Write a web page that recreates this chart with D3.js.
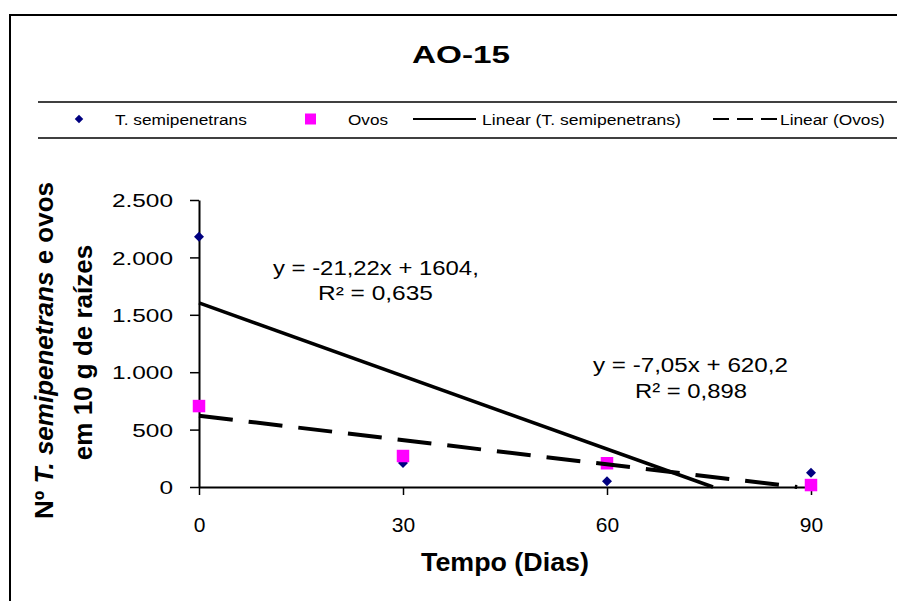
<!DOCTYPE html>
<html>
<head>
<meta charset="utf-8">
<script src="https://cdn.jsdelivr.net/npm/d3@7"></script>
<style>
  body { margin: 0; background: #fff; }
  text { font-family: "Liberation Sans", Arial, sans-serif; fill: #000; }
</style>
</head>
<body>
<div id="chart"></div>
<script>
// data
const days = [0, 30, 60, 90];
const semipenetrans = [2180, 210, 50, 125];
const ovos = [705, 270, 207, 17];
const xTicks = [0, 30, 60, 90];
const yTicks = [0, 500, 1000, 1500, 2000, 2500];
// trend lines: [slope, intercept], as printed on the chart
const trendSemi = [-21.22, 1604];
const trendOvos = [-7.05, 620.2];
const eqSemi = ["y = -21,22x + 1604,", "R² = 0,635"];
const eqOvos = ["y = -7,05x + 620,2", "R² = 0,898"];
const legendLabels = ["T. semipenetrans", "Ovos", "Linear (T. semipenetrans)", "Linear (Ovos)"];

const W = 897, H = 601;
const svg = d3.select("#chart").append("svg")
    .attr("width", W)
    .attr("height", H);

// stretch a text horizontally to a given width (old Excel fonts look wide)
function fit(sel, x, y, w) {
    const bw = sel.node().getComputedTextLength();
    sel.attr("x", 0).attr("y", 0)
        .attr("transform", `translate(${x},${y}) scale(${w / bw},1)`);
}

// outer frame (runs off the right and bottom edges)
svg.append("rect")
    .attr("x", 10).attr("y", 15)
    .attr("width", W).attr("height", H)
    .attr("fill", "none").attr("stroke", "#000").attr("stroke-width", 2);

// title
fit(svg.append("text").attr("font-size", 24).attr("font-weight", "bold").text("AO-15"), 412, 62.5, 98);

// legend box lines
[102, 138].forEach(y => {
    svg.append("line")
        .attr("x1", 38).attr("x2", W)
        .attr("y1", y).attr("y2", y)
        .attr("stroke", "#000").attr("stroke-width", 1.5);
});

const legY = 119;
svg.append("path")
    .attr("d", d3.symbol(d3.symbolSquare, 36)())
    .attr("transform", `translate(79,${legY}) rotate(45)`)
    .attr("fill", "#000080");
svg.append("path")
    .attr("d", d3.symbol(d3.symbolSquare, 121)())
    .attr("transform", `translate(310.5,${legY})`)
    .attr("fill", "#ff00ff");
svg.append("line")
    .attr("x1", 413).attr("x2", 476).attr("y1", legY).attr("y2", legY)
    .attr("stroke", "#000").attr("stroke-width", 2);
svg.append("line")
    .attr("x1", 713).attr("x2", 777).attr("y1", legY).attr("y2", legY)
    .attr("stroke", "#000").attr("stroke-width", 2)
    .attr("stroke-dasharray", "16,8");

const legPos = [[115, 132], [348, 40], [482, 199], [780, 105]];
legendLabels.forEach((t, i) => {
    fit(svg.append("text").attr("font-size", 15).text(t), legPos[i][0], 124.5, legPos[i][1]);
});

// plot area
const margin = { left: 199, top: 200, right: W - 811, bottom: H - 487 };
const width = W - margin.left - margin.right;
const height = H - margin.top - margin.bottom;
const g = svg.append("g").attr("transform", `translate(${margin.left},${margin.top})`);

const x = d3.scaleLinear().domain([0, 90]).range([0, width]);
const y = d3.scaleLinear().domain([0, 2500]).range([height, 0]);

const pt = d3.formatLocale({ decimal: ",", thousands: ".", grouping: [3], currency: ["", ""] });

// y axis
const yAxis = g.append("g")
    .call(d3.axisLeft(y).tickValues(yTicks).tickSizeInner(9).tickSizeOuter(0).tickFormat(pt.format(",")));
yAxis.select(".domain").attr("stroke-width", 2);
yAxis.selectAll(".tick line").attr("stroke-width", 1.5);
yAxis.selectAll(".tick text")
    .attr("font-size", 18.5)
    .attr("font-family", null)
    .attr("dy", "0.36em")
    .attr("x", 0)
    .attr("transform", "translate(-26,0) scale(1.32,1)");

// x axis
const xAxis = g.append("g")
    .attr("transform", `translate(0,${height})`)
    .call(d3.axisBottom(x).tickValues(xTicks).tickSizeInner(8).tickSizeOuter(0));
xAxis.select(".domain").attr("stroke-width", 2);
xAxis.selectAll(".tick line").attr("stroke-width", 1.5);
xAxis.selectAll(".tick text")
    .attr("font-size", 21)
    .attr("font-family", null)
    .attr("y", 30);

// axis titles
fit(svg.append("text").attr("font-size", 26).attr("font-weight", "bold").text("Tempo (Dias)"), 421, 571, 168);

const yt = svg.append("text")
    .attr("transform", "translate(53,350.5) rotate(-90)")
    .attr("text-anchor", "middle")
    .attr("font-size", 26)
    .attr("font-weight", "bold");
yt.append("tspan").text("Nº ");
yt.append("tspan").attr("font-style", "italic").text("T. semipenetrans");
yt.append("tspan").text(" e ovos");
svg.append("text")
    .attr("transform", "translate(92,352.5) rotate(-90)")
    .attr("text-anchor", "middle")
    .attr("font-size", 26)
    .attr("font-weight", "bold")
    .text("em 10 g de raízes");

// markers
g.selectAll(".semi")
    .data(days.map((d, i) => [d, semipenetrans[i]]))
    .enter().append("path")
    .attr("class", "semi")
    .attr("d", d3.symbol(d3.symbolSquare, 50)())
    .attr("transform", d => `translate(${x(d[0])},${y(d[1])}) rotate(45)`)
    .attr("fill", "#000080");

g.selectAll(".ovo")
    .data(days.map((d, i) => [d, ovos[i]]))
    .enter().append("path")
    .attr("class", "ovo")
    .attr("d", d3.symbol(d3.symbolSquare, 156)())
    .attr("transform", d => `translate(${x(d[0])},${y(d[1])})`)
    .attr("fill", "#ff00ff");

// linear trend lines, cut where they reach zero
function trendPoints(t) {
    const xEnd = Math.min(90, -t[1] / t[0]);
    return [0, xEnd].map(v => [v, t[0] * v + t[1]]);
}
const line = d3.line().x(d => x(d[0])).y(d => y(d[1]));

g.append("path")
    .attr("d", line(trendPoints(trendSemi)))
    .attr("fill", "none").attr("stroke", "#000").attr("stroke-width", 3.5);
g.append("path")
    .attr("d", line(trendPoints(trendOvos)))
    .attr("fill", "none").attr("stroke", "#000").attr("stroke-width", 4)
    .attr("stroke-dasharray", "34,16");

// equation labels
fit(svg.append("text").attr("font-size", 20).text(eqSemi[0]), 273, 275, 206);
fit(svg.append("text").attr("font-size", 20).text(eqSemi[1]), 318, 300, 115);
fit(svg.append("text").attr("font-size", 20).text(eqOvos[0]), 593, 372, 195);
fit(svg.append("text").attr("font-size", 20).text(eqOvos[1]), 635, 398, 112);
</script>
</body>
</html>
